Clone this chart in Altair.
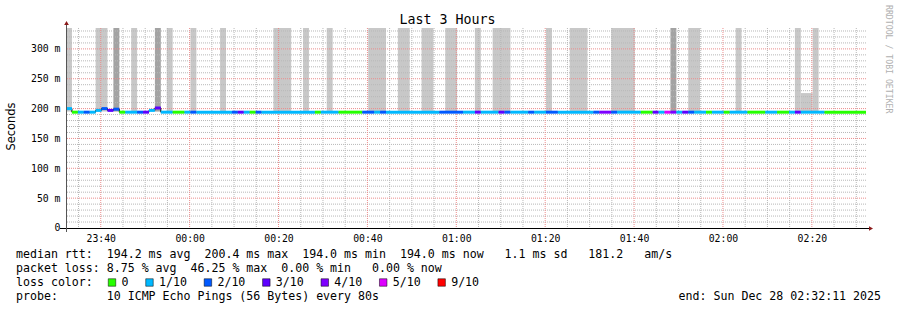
import altair as alt
import pandas as pd

# ------------------------------------------------------------------ data
START = "2025-12-27T23:32:11"
STEP_S = 80          # seconds per RRD step
N_STEPS = 135        # 3 hours
Y_MAX = 335

# median rtt line: run-length segments (start step, lost pings of 10, median ms)
seg_step = [0, 1, 2, 3, 4, 5, 6, 7, 8, 9,
            10, 12, 13, 14, 15, 16, 18, 20, 21, 22,
            28, 29, 30, 31, 32, 33, 42, 43, 46, 50,
            52, 53, 54, 63, 67, 69, 70, 73, 74, 75,
            78, 79, 81, 83, 89, 90, 92, 93, 97, 99,
            100, 101, 102, 103, 104, 105, 106, 108, 109, 111,
            112, 115, 118, 120, 122, 123, 124, 128]
seg_loss = [1, 0, 1, 2, 1, 1, 2, 3, 2, 0,
            1, 2, 3, 1, 3, 1, 0, 1, 2, 1,
            2, 3, 1, 0, 2, 1, 0, 1, 0, 2,
            1, 2, 1, 2, 1, 3, 1, 3, 2, 1,
            2, 1, 2, 1, 2, 4, 2, 1, 0, 3,
            1, 5, 4, 1, 3, 2, 1, 0, 1, 0,
            1, 0, 1, 0, 1, 3, 1, 0]
seg_median = [200, 194, 194, 194, 194, 197, 200, 197, 199, 194,
              194, 194, 194, 197, 201, 194, 194, 194, 194, 194] + [194] * 48

# smoke (ping spread) blocks: start step, number of steps, top ms, shade
smoke_step = [0, 5, 8, 11, 15, 17, 21, 26, 35, 40, 44, 51, 56, 60, 64, 69, 72,
              81, 85, 92, 102, 105, 113, 123, 124, 126]
smoke_len = [1, 2, 1, 1, 1, 1, 1, 1, 3, 1, 1, 3, 2, 2, 2, 1, 3,
             1, 3, 4, 1, 2, 1, 1, 2, 1]
smoke_top = [335, 335, 335, 335, 335, 335, 335, 335, 335, 335, 335, 335, 335,
             335, 335, 335, 335, 335, 335, 335, 335, 335, 335, 335, 226, 335]
smoke_shade = ["light", "light", "dark", "light", "dark", "light", "light",
               "light", "light", "light", "light", "light", "light", "light",
               "light", "light", "light", "light", "light", "light", "dark",
               "light", "light", "light", "light", "light"]
SMOKE_LOW = 195

loss_labels = ["0", "1/10", "2/10", "3/10", "4/10", "5/10", "9/10"]
loss_colors = ["#26ff00", "#00b8ff", "#0059ff", "#5e00ff", "#7e00ff", "#dd00ff", "#ff0000"]

y_tick_values = [0, 50, 100, 150, 200, 250, 300]

title_text = "Last 3 Hours"
y_title = "Seconds"
legend_rows = [
    "median rtt:  194.2 ms avg  200.4 ms max  194.0 ms min  194.0 ms now   1.1 ms sd   181.2   am/s",
    "packet loss: 8.75 % avg  46.25 % max  0.00 % min   0.00 % now",
    "loss color:",
    "probe:       10 ICMP Echo Pings (56 Bytes) every 80s",
]
end_text = "end: Sun Dec 28 02:32:11 2025"
watermark = "RRDTOOL / TOBI OETIKER"

# ------------------------------------------------------------------ build tables
t0 = pd.Timestamp(START)
FMT = "%Y-%m-%dT%H:%M:%S"


def ts(k):
    return (t0 + pd.Timedelta(seconds=k * STEP_S)).strftime(FMT)


def loss_label(n):
    return loss_labels[n] if n <= 5 else loss_labels[-1]


seg_end = seg_step[1:] + [N_STEPS]
seg_df = pd.DataFrame({
    "start": [ts(s) for s in seg_step],
    "end": [ts(e) for e in seg_end],
    "median": seg_median,
    "loss": [loss_label(n) for n in seg_loss],
})
line_df = pd.DataFrame({
    "start": [ts(s) for s in seg_step] + [ts(N_STEPS)],
    "median": seg_median + [seg_median[-1]],
})

smoke_df = pd.DataFrame({
    "start": [ts(s) for s in smoke_step],
    "end": [ts(s + n) for s, n in zip(smoke_step, smoke_len)],
    "median": [SMOKE_LOW] * len(smoke_step),
    "top": smoke_top,
    "shade": smoke_shade,
})
smoke_light = smoke_df[smoke_df.shade == "light"].reset_index(drop=True)
smoke_dark = smoke_df[smoke_df.shade == "dark"].reset_index(drop=True)

t_end = t0 + pd.Timedelta(seconds=N_STEPS * STEP_S)
grid_times = pd.date_range(t0.ceil("5min"), t_end, freq="5min")
major_times = [t for t in grid_times if t.minute % 20 == 0]
minor_times = [t for t in grid_times if t.minute % 20 != 0]
vmajor_df = pd.DataFrame({"start": [t.strftime(FMT) for t in major_times]})
vminor_df = pd.DataFrame({"start": [t.strftime(FMT) for t in minor_times]})
hmajor_df = pd.DataFrame({"median": [v for v in range(50, Y_MAX, 50)]})
hminor_df = pd.DataFrame({"median": [v for v in range(10, Y_MAX, 10) if v % 50]})


def dt(t):
    return alt.DateTime(year=t.year, month=t.month, date=t.day,
                        hours=t.hour, minutes=t.minute, seconds=t.second)


xs = alt.Scale(domain=[dt(t0), dt(t_end)])
ys = alt.Scale(domain=[-0.01, Y_MAX], nice=False, zero=False)

MONO = "DejaVu Sans Mono"
x_axis = alt.Axis(values=[dt(t) for t in major_times], format="%H:%M", title=None,
                  labelFont=MONO, labelFontSize=9.8, labelColor="#000",
                  labelBaseline="alphabetic", labelPadding=13, ticks=False,
                  domain=False, grid=False, labelFlush=False)
y_axis = alt.Axis(values=y_tick_values,
                  labelExpr="datum.value > 1 ? datum.value + ' m' : '0\\u2007\\u2007'",
                  labelFont=MONO, labelFontSize=9.8, labelColor="#000",
                  labelPadding=6, ticks=False, domain=False, labelOverlap=False,
                  labelFlush=False, labelBound=False,
                  grid=False, title=y_title, titleFont="DejaVu Sans",
                  titleFontSize=11.4, titleFontWeight="normal", titleColor="#000",
                  titleX=-55, titleY=98, titleAngle=270, titleAlign="center",
                  titleBaseline="middle")

X = alt.X("start:T", scale=xs, axis=x_axis)
Y = alt.Y("median:Q", scale=ys, axis=y_axis)

one = pd.DataFrame({"a": [0]})

# ------------------------------------------------------------------ layers
smoke_l = alt.Chart(smoke_light).mark_rect(color="#c8c8c8", clip=True).encode(
    x=X, x2="end:T", y=Y, y2="top:Q")
smoke_d = alt.Chart(smoke_dark).mark_rect(color="#a3a3a3", clip=True).encode(
    x=X, x2="end:T", y=Y, y2="top:Q")

vminor = alt.Chart(vminor_df).mark_rule(stroke="#b8b8b8", strokeDash=[1, 1], strokeWidth=1).encode(x=X)
hminor = alt.Chart(hminor_df).mark_rule(stroke="#b8b8b8", strokeDash=[1, 1], strokeWidth=1).encode(y=Y)
vmajor = alt.Chart(vmajor_df).mark_rule(stroke="#ec8c8c", strokeDash=[1, 1], strokeWidth=1).encode(x=X)
hmajor = alt.Chart(hmajor_df).mark_rule(stroke="#ec8c8c", strokeDash=[1, 1], strokeWidth=1).encode(y=Y)

black_line = alt.Chart(line_df).mark_line(interpolate="step-after", color="#000", strokeWidth=1).encode(
    x=X, y=Y)
median_segs = alt.Chart(seg_df).mark_rule(strokeWidth=3).encode(
    x=X, x2="end:T", y=Y,
    color=alt.Color("loss:N", scale=alt.Scale(domain=loss_labels, range=loss_colors), legend=None))

x_line = alt.Chart(one).mark_rule(color="#000", strokeWidth=1).encode(
    x=alt.value(-6), x2=alt.value(804), y=alt.value(200.5))
y_line = alt.Chart(one).mark_rule(color="#555", strokeWidth=1).encode(
    x=alt.value(0.5), y=alt.value(-6), y2=alt.value(204))
arrow_up = alt.Chart(one).mark_point(shape="triangle-up", filled=True, color="#8b1a1a",
                                     size=22, opacity=1).encode(x=alt.value(0.5), y=alt.value(-5))
arrow_right = alt.Chart(one).mark_point(shape="triangle-right", filled=True, color="#8b1a1a",
                                        size=22, opacity=1).encode(x=alt.value(805), y=alt.value(200.5))


def text_layer(txt, x, y, size, align="left", baseline="alphabetic", font=MONO,
               color="#000", angle=0):
    return alt.Chart(one).mark_text(
        text=txt.replace(" ", "\u00a0"), align=align, baseline=baseline, font=font,
        fontSize=size, color=color, angle=angle).encode(x=alt.value(x), y=alt.value(y))


LEG_FS = 11.6
CW = 0.602 * LEG_FS
OX, OY = 66, 28   # plot origin in the page
row_base = [258, 272, 286, 300]

texts = [text_layer(title_text, 447.5 - OX, 24 - OY, 13.3, align="center")]
for row, b in zip(legend_rows, row_base):
    texts.append(text_layer(row, 16 - OX, b - OY, LEG_FS))
texts.append(text_layer(end_text, 881 - OX, 300 - OY, LEG_FS, align="right"))
texts.append(text_layer(watermark, 887.5 - OX, 5 - OY, 8.2, baseline="middle",
                        color="#b0b0b0", angle=90))

# loss colour legend boxes + labels
sq_left = 108.0
boxes = []
for lab, col in zip(loss_labels, loss_colors):
    boxes.append(alt.Chart(one).mark_square(size=56, color=col, filled=True, opacity=1,
                                            stroke="#000", strokeWidth=0.5).encode(
        x=alt.value(sq_left + 4 - OX), y=alt.value(282.5 - OY)))
    tx = sq_left + 13.5
    texts.append(text_layer(lab, tx - OX, 286 - OY, LEG_FS))
    sq_left = tx + len(lab) * CW + 17

chart = alt.layer(
    smoke_l, smoke_d, hminor, vminor, hmajor, vmajor, black_line, median_segs,
    x_line, y_line, arrow_up, arrow_right, *boxes, *texts
).properties(
    width=800, height=200,
    autosize=alt.AutoSizeParams(type="none"),
    padding={"left": OX, "top": OY, "right": 31, "bottom": 82},
    background="#ffffff",
).configure_view(stroke=None)

chart.save("out.html", embed_options={"renderer": "svg", "actions": False})
